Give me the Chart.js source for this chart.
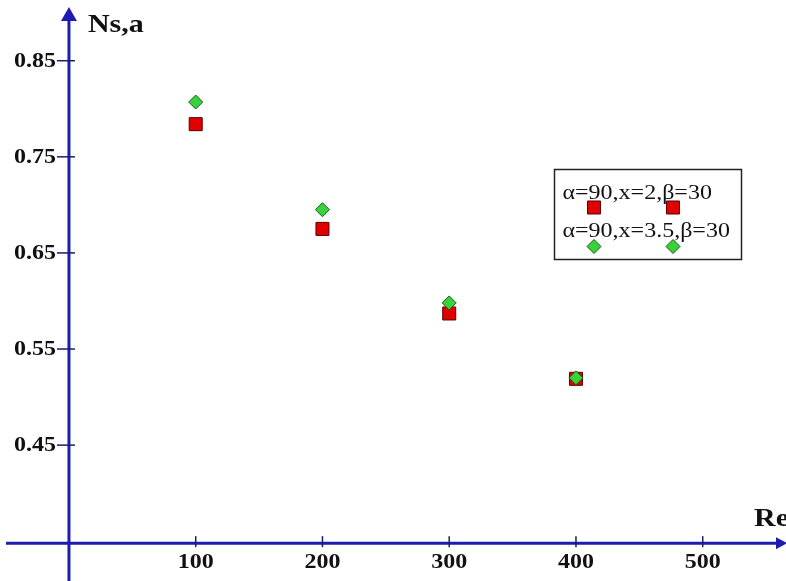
<!DOCTYPE html>
<html>
<head>
<meta charset="utf-8">
<script src="https://cdn.jsdelivr.net/npm/chart.js@4.4.0/dist/chart.umd.min.js"></script>
<style>
  html, body { margin: 0; padding: 0; background: #fff; }
  #wrap { width: 786px; height: 581px; }
</style>
</head>
<body>
<div id="wrap"><canvas id="c"></canvas></div>
<script>
// values
const reValues = [100, 200, 300, 400];
const nsX2 = [0.784, 0.675, 0.587, 0.519];
const nsX35 = [0.807, 0.695, 0.598, 0.520];
const xTicks = [100, 200, 300, 400, 500];
const yTicks = [0.45, 0.55, 0.65, 0.75, 0.85];
const seriesNames = ['α=90,x=2,β=30', 'α=90,x=3.5,β=30'];
const hAxisAt = 0.348; // where the Re axis crosses the Ns,a axis

const RED = '#e00000', RED_EDGE = '#5a0000';
const GREEN = '#3ad23a', GREEN_EDGE = '#175c17';
const AXIS = '#1c1cb0';
const SERIF = '"Liberation Serif", "Times New Roman", serif';

function toPoints(ys) {
  return reValues.map((r, i) => ({ x: r, y: ys[i] }));
}

// the source picture is a bit stretched sideways, so is its text
function wideText(ctx, txt, x, y, align) {
  ctx.save();
  ctx.translate(x, y);
  ctx.scale(1.2, 1);
  ctx.textAlign = align;
  ctx.fillText(txt, 0, 0);
  ctx.restore();
}

const axesPlugin = {
  id: 'axes',
  beforeDatasetsDraw(chart) {
    const { ctx, width, height } = chart;
    const sx = chart.scales.x, sy = chart.scales.y;
    const x0 = sx.getPixelForValue(0);
    const y0 = sy.getPixelForValue(hAxisAt);
    ctx.save();
    ctx.strokeStyle = AXIS;
    ctx.fillStyle = AXIS;
    ctx.lineWidth = 3;
    // horizontal axis + arrow
    ctx.beginPath();
    ctx.moveTo(6, y0);
    ctx.lineTo(width - 8, y0);
    ctx.stroke();
    ctx.beginPath();
    ctx.moveTo(width + 1, y0);
    ctx.lineTo(width - 10, y0 - 6);
    ctx.lineTo(width - 10, y0 + 6);
    ctx.closePath();
    ctx.fill();
    // vertical axis + arrow
    ctx.beginPath();
    ctx.moveTo(x0, height);
    ctx.lineTo(x0, 18);
    ctx.stroke();
    ctx.beginPath();
    ctx.moveTo(x0, 7);
    ctx.lineTo(x0 - 8, 21);
    ctx.lineTo(x0 + 8, 21);
    ctx.closePath();
    ctx.fill();

    // ticks
    ctx.lineWidth = 1.5;
    ctx.strokeStyle = '#1a1a70';
    xTicks.forEach(v => {
      const px = sx.getPixelForValue(v);
      ctx.beginPath();
      ctx.moveTo(px, y0 - 7);
      ctx.lineTo(px, y0 + 4);
      ctx.stroke();
    });
    yTicks.forEach(v => {
      const py = sy.getPixelForValue(v);
      ctx.beginPath();
      ctx.moveTo(x0 - 12, py);
      ctx.lineTo(x0 + 6, py);
      ctx.stroke();
    });

    // tick labels
    ctx.fillStyle = '#111';
    ctx.font = 'bold 20px ' + SERIF;
    ctx.textBaseline = 'middle';
    xTicks.forEach(v => {
      wideText(ctx, String(v), sx.getPixelForValue(v), y0 + 20, 'center');
    });
    yTicks.forEach(v => {
      wideText(ctx, v.toFixed(2), x0 - 13, sy.getPixelForValue(v) + 1, 'right');
    });

    // axis titles
    ctx.textBaseline = 'alphabetic';
    ctx.font = 'bold 25px ' + SERIF;
    wideText(ctx, 'Ns,a', x0 + 19, 32, 'left');
    wideText(ctx, 'Re', width - 32, y0 - 17, 'left');
    ctx.restore();
  }
};

const legendPlugin = {
  id: 'boxLegend',
  afterDatasetsDraw(chart) {
    const { ctx } = chart;
    const left = 554.5, top = 169.5;
    ctx.save();
    ctx.fillStyle = '#fff';
    ctx.fillRect(left, top, 187, 90);
    ctx.strokeStyle = '#222';
    ctx.lineWidth = 1.5;
    ctx.strokeRect(left, top, 187, 90);
    ctx.fillStyle = '#111';
    ctx.font = '20px ' + SERIF;
    ctx.textBaseline = 'alphabetic';
    wideText(ctx, seriesNames[0], left + 8, top + 29, 'left');
    wideText(ctx, seriesNames[1], left + 8, top + 67, 'left');
    chart.data.datasets.forEach(ds => {
      const row = ds.label === seriesNames[0] ? 38 : 77;
      ctx.fillStyle = ds.backgroundColor;
      ctx.strokeStyle = ds.borderColor;
      ctx.lineWidth = 1;
      [39.5, 118.5].forEach(dx => {
        Chart.helpers.drawPoint(ctx, {
          pointStyle: ds.pointStyle, radius: ds.pointRadius, borderWidth: 1, rotation: 0
        }, left + dx, top + row);
      });
    });
    ctx.restore();
  }
};

new Chart(document.getElementById('c'), {
  type: 'scatter',
  data: {
    datasets: [
      {
        label: seriesNames[0],
        data: toPoints(nsX2),
        pointStyle: 'rect',
        pointRadius: 9.2,
        backgroundColor: RED,
        borderColor: RED_EDGE,
        borderWidth: 1,
        order: 2
      },
      {
        label: seriesNames[1],
        data: toPoints(nsX35),
        pointStyle: 'rectRot',
        pointRadius: 7,
        backgroundColor: GREEN,
        borderColor: GREEN_EDGE,
        borderWidth: 1,
        order: 1
      }
    ]
  },
  options: {
    responsive: true,
    maintainAspectRatio: false,
    animation: false,
    layout: { padding: 0, autoPadding: false },
    scales: {
      x: { type: 'linear', min: -54.4, max: 565.7, display: false },
      y: { type: 'linear', min: 0.3086, max: 0.9132, display: false }
    },
    plugins: {
      legend: { display: false },
      tooltip: { enabled: false }
    }
  },
  plugins: [axesPlugin, legendPlugin]
});
</script>
</body>
</html>
